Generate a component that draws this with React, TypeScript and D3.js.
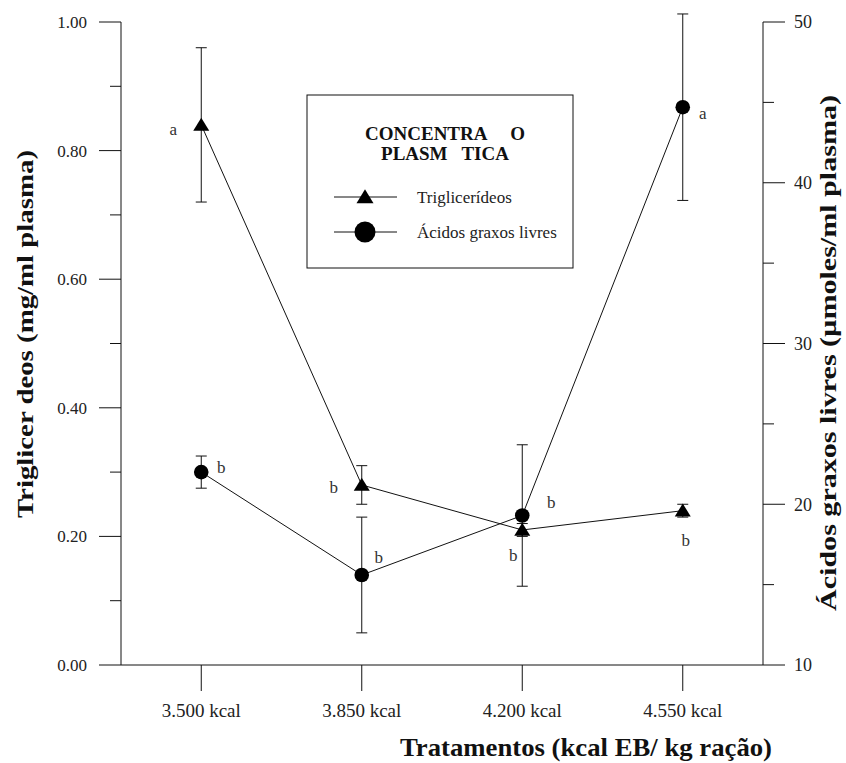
import React from "react";
import * as d3 from "d3";

// ---------- data ----------
const categories = ["3.500 kcal", "3.850 kcal", "4.200 kcal", "4.550 kcal"];
const trigMean = [0.84, 0.28, 0.21, 0.24];
const trigErr = [0.12, 0.03, 0.01, 0.01];
const trigLetters = ["a", "b", "b", "b"];
const aglMean = [22, 15.6, 19.3, 44.7];
const aglErr = [1.0, 3.6, 4.4, 5.8];
const aglLetters = ["b", "b", "b", "a"];
const leftTicks = [0, 0.2, 0.4, 0.6, 0.8, 1.0];
const leftMinorTicks = [0.1, 0.3, 0.5, 0.7, 0.9];
const rightTicks = [10, 20, 30, 40, 50];
const rightMinorTicks = [15, 25, 35, 45];
const legendTitle = ["CONCENTRA     O", "PLASM   TICA"];
const seriesNames = ["Triglicerídeos", "Ácidos graxos livres"];
const leftTitle = "Triglicer deos (mg/ml plasma)";
const rightTitle = "Ácidos graxos livres (µmoles/ml plasma)";
const xTitle = "Tratamentos (kcal EB/ kg ração)";

// ---------- layout ----------
const W = 846, H = 763;
const X0 = 121, X1 = 763, Y0 = 665, Y1 = 22;
const FONT = "'Liberation Serif', 'Times New Roman', serif";
// letter label offsets (dx, dy) relative to the marker
const trigLetterOff: [number, number][] = [[-28, 5], [-28, 3], [-9, 26], [3, 30]];
const aglLetterOff: [number, number][] = [[20, -4], [17, -17], [29, -13], [20, 7]];

export default function App() {
  const x = d3.scalePoint<string>().domain(categories).range([X0, X1]).padding(0.5);
  const yL = d3.scaleLinear().domain([0, 1]).range([Y0, Y1]);
  const yR = d3.scaleLinear().domain([10, 50]).range([Y0, Y1]);

  const trigPts = categories.map((c, i) => [x(c)!, yL(trigMean[i])] as [number, number]);
  const aglPts = categories.map((c, i) => [x(c)!, yR(aglMean[i])] as [number, number]);
  const line = d3.line();
  const tri = (w: number, h: number, cx: number, cy: number) => {
    const p = d3.path();
    p.moveTo(cx, cy - h * 0.55);
    p.lineTo(cx + w / 2, cy + h * 0.45);
    p.lineTo(cx - w / 2, cy + h * 0.45);
    p.closePath();
    return p.toString();
  };
  const cap = 5.5;

  const errBar = (xx: number, lo: number, hi: number, key: string) => (
    <g key={key} stroke="#111" strokeWidth={1}>
      <line x1={xx} x2={xx} y1={lo} y2={hi} />
      <line x1={xx - cap} x2={xx + cap} y1={lo} y2={lo} />
      <line x1={xx - cap} x2={xx + cap} y1={hi} y2={hi} />
    </g>
  );

  return (
    <svg width={W} height={H} style={{ position: "absolute", left: 0, top: 0, background: "#fff" }} fontFamily={FONT}>
      <rect width={W} height={H} fill="#fff" />
      {/* axes */}
      <g stroke="#111" strokeWidth={1} fill="none">
        <line x1={X0} x2={X0} y1={Y1} y2={Y0} />
        <line x1={X1} x2={X1} y1={Y1} y2={Y0} />
        <line x1={X0} x2={X1} y1={Y0} y2={Y0} />
        {leftTicks.map((t) => <line key={"lt" + t} x1={X0 - 22} x2={X0} y1={yL(t)} y2={yL(t)} />)}
        {leftMinorTicks.map((t) => <line key={"lm" + t} x1={X0 - 11} x2={X0} y1={yL(t)} y2={yL(t)} />)}
        {rightTicks.map((t) => <line key={"rt" + t} x1={X1} x2={X1 + 22} y1={yR(t)} y2={yR(t)} />)}
        {rightMinorTicks.map((t) => <line key={"rm" + t} x1={X1} x2={X1 + 11} y1={yR(t)} y2={yR(t)} />)}
        {categories.map((c) => <line key={"xt" + c} x1={x(c)} x2={x(c)} y1={Y0} y2={Y0 + 26} />)}
      </g>
      <g fontSize={17} fill="#222">
        {leftTicks.map((t) => (
          <text key={"ll" + t} x={X0 - 34} y={yL(t)} dy="0.35em" textAnchor="end">{d3.format(".2f")(t)}</text>
        ))}
        {rightTicks.map((t) => (
          <text key={"rl" + t} x={X1 + 31} y={yR(t)} dy="0.35em" textAnchor="start" fontSize={18}>{t}</text>
        ))}
        {categories.map((c) => (
          <text key={"xl" + c} x={x(c)} y={Y0 + 52} textAnchor="middle" fontSize={19}>{c}</text>
        ))}
      </g>
      {/* titles */}
      <text transform={`translate(33,${334}) rotate(-90)`} textAnchor="middle" fontWeight="bold" fontSize={24} textLength={368} lengthAdjust="spacingAndGlyphs" fill="#111">{leftTitle}</text>
      <text transform={`translate(836,${353}) rotate(-90)`} textAnchor="middle" fontWeight="bold" fontSize={24} textLength={516} lengthAdjust="spacingAndGlyphs" fill="#111">{rightTitle}</text>
      <text x={772} y={756} textAnchor="end" fontWeight="bold" fontSize={25} textLength={372} lengthAdjust="spacingAndGlyphs" fill="#111">{xTitle}</text>

      {/* lines */}
      <path d={line(trigPts)!} fill="none" stroke="#111" strokeWidth={1} />
      <path d={line(aglPts)!} fill="none" stroke="#111" strokeWidth={1} />
      {/* error bars */}
      {categories.map((c, i) => errBar(x(c)!, yL(trigMean[i] - trigErr[i]), yL(trigMean[i] + trigErr[i]), "te" + i))}
      {categories.map((c, i) => errBar(x(c)!, yR(aglMean[i] - aglErr[i]), yR(aglMean[i] + aglErr[i]), "ae" + i))}
      {/* markers */}
      {trigPts.map(([px, py], i) => <path key={"tm" + i} d={tri(16, 13, px, py)} fill="#000" />)}
      {aglPts.map(([px, py], i) => <circle key={"am" + i} cx={px} cy={py} r={7.3} fill="#000" />)}
      {/* letters */}
      <g fontSize={17} fill="#333" textAnchor="middle">
        {trigPts.map(([px, py], i) => (
          <text key={"tl" + i} x={px + trigLetterOff[i][0]} y={py + trigLetterOff[i][1]} dy="0.3em">{trigLetters[i]}</text>
        ))}
        {aglPts.map(([px, py], i) => (
          <text key={"al" + i} x={px + aglLetterOff[i][0]} y={py + aglLetterOff[i][1]} dy="0.3em">{aglLetters[i]}</text>
        ))}
      </g>

      {/* legend */}
      <g>
        <rect x={307} y={95} width={266} height={173} fill="#fff" stroke="#111" strokeWidth={1} />
        {legendTitle.map((t, i) => (
          <text key={"lg" + i} x={445} y={133 + i * 20} dy="0.35em" textAnchor="middle" fontWeight="bold" fontSize={19} fill="#111" style={{ whiteSpace: "pre" }}>{t}</text>
        ))}
        <line x1={334} x2={397} y1={197} y2={197} stroke="#111" />
        <path d={tri(17, 14, 365, 197)} fill="#000" />
        <text x={417} y={197} dy="0.35em" fontSize={17} fill="#222">{seriesNames[0]}</text>
        <line x1={334} x2={397} y1={232} y2={232} stroke="#111" />
        <circle cx={365} cy={232} r={10.5} fill="#000" />
        <text x={417} y={232} dy="0.35em" fontSize={17} fill="#222">{seriesNames[1]}</text>
      </g>
    </svg>
  );
}
